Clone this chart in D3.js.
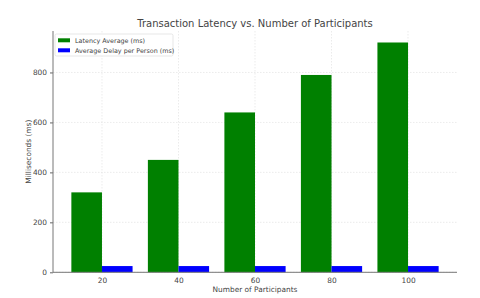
<!DOCTYPE html>
<html><head><meta charset="utf-8">
<script src="https://cdn.jsdelivr.net/npm/d3@7"></script>
<style>body{margin:0;background:#fff}svg{display:block}text{font-family:"DejaVu Sans",sans-serif}</style>
</head><body>
<svg id="c" width="480" height="298"></svg>
<script>
const categories = ["20", "40", "60", "80", "100"];
const latencyAvg = [320, 450, 640, 790, 920];
const delayPerPerson = [25, 25, 25, 25, 25];
const yTicks = [0, 200, 400, 600, 800];
const seriesNames = ["Latency Average (ms)", "Average Delay per Person (ms)"];
const seriesColors = ["#008000", "#0000ff"];

const svg = d3.select("#c");
const m = {l: 53, r: 457, t: 31, b: 272.3};
const barW = 0.4;
const x = d3.scaleLinear().domain([-0.64, categories.length - 1 + 0.64]).range([m.l, m.r]);
const y = d3.scaleLinear().domain([0, d3.max(latencyAvg) * 1.05]).range([m.b, m.t]);
const textCol = "#444";
const small = "7.4px";

// grid
svg.append("g").selectAll("line.hy").data(yTicks).join("line")
  .attr("x1", m.l).attr("x2", m.r).attr("y1", d => y(d)).attr("y2", d => y(d))
  .attr("stroke", "#ddd").attr("stroke-width", 0.6).attr("stroke-dasharray", "1.5,1.5");
svg.append("g").selectAll("line.vx").data(categories).join("line")
  .attr("x1", (d, i) => x(i)).attr("x2", (d, i) => x(i)).attr("y1", m.t).attr("y2", m.b)
  .attr("stroke", "#ddd").attr("stroke-width", 0.6).attr("stroke-dasharray", "1.5,1.5");

// bars
svg.append("g").selectAll("rect").data(latencyAvg).join("rect")
  .attr("x", (d, i) => x(i - barW)).attr("width", x(barW) - x(0))
  .attr("y", d => y(d)).attr("height", d => y(0) - y(d)).attr("fill", seriesColors[0]);
svg.append("g").selectAll("rect").data(delayPerPerson).join("rect")
  .attr("x", (d, i) => x(i)).attr("width", x(barW) - x(0))
  .attr("y", d => y(d)).attr("height", d => y(0) - y(d)).attr("fill", seriesColors[1]);

// axes
const yAxis = d3.axisLeft(y).tickValues(yTicks).tickSize(3).tickPadding(3);
const gy = svg.append("g").attr("transform", `translate(${m.l},0)`).call(yAxis);
const xAxis = d3.axisBottom(x).tickValues(d3.range(categories.length)).tickFormat(i => categories[i]).tickSize(0).tickPadding(5);
const gx = svg.append("g").attr("transform", `translate(0,${m.b})`).call(xAxis);
[gx, gy].forEach(g => {
  g.select(".domain").remove();
  g.selectAll("line").attr("stroke", "#666");
  g.selectAll("text").attr("fill", textCol).style("font-size", small).style("font-family", "DejaVu Sans");
});
svg.append("line").attr("x1", m.l).attr("x2", m.l).attr("y1", m.t).attr("y2", m.b).attr("stroke", "#777").attr("stroke-width", 1);
svg.append("line").attr("x1", m.l).attr("x2", m.r).attr("y1", m.b).attr("y2", m.b).attr("stroke", "#777").attr("stroke-width", 1);

// title & labels
svg.append("text").attr("x", (m.l + m.r) / 2).attr("y", 27).attr("text-anchor", "middle")
  .attr("fill", textCol).style("font-size", "10px").text("Transaction Latency vs. Number of Participants");
svg.append("text").attr("x", (m.l + m.r) / 2).attr("y", 291.5).attr("text-anchor", "middle")
  .attr("fill", textCol).style("font-size", small).text("Number of Participants");
svg.append("text").attr("transform", `translate(31,${(m.t + m.b) / 2}) rotate(-90)`).attr("text-anchor", "middle")
  .attr("fill", textCol).style("font-size", small).text("Milliseconds (ms)");

// legend
const lg = svg.append("g");
lg.append("rect").attr("x", 55).attr("y", 34).attr("width", 118).attr("height", 22)
  .attr("fill", "#fff").attr("stroke", "#ddd").attr("stroke-width", 0.7).attr("rx", 1.5);
seriesNames.forEach((n, i) => {
  lg.append("rect").attr("x", 58).attr("y", 38.3 + i * 10).attr("width", 12).attr("height", 4).attr("fill", seriesColors[i]);
  lg.append("text").attr("x", 75).attr("y", 43 + i * 10).attr("fill", textCol).style("font-size", "6.4px").text(n);
});
</script>
</body></html>
